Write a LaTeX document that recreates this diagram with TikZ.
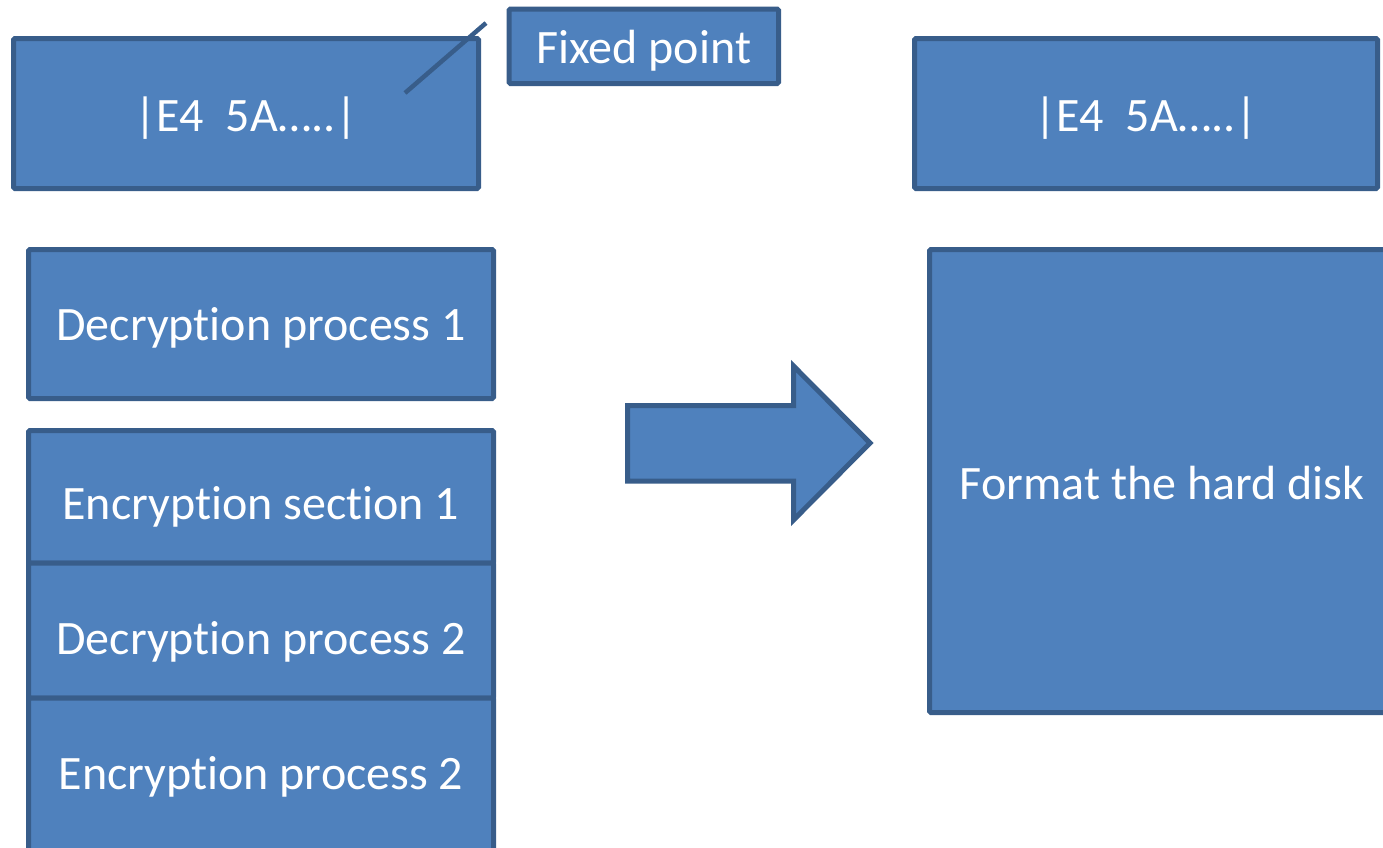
\documentclass[tikz,border=0pt]{standalone}
\usepackage{fontspec}
\setmainfont{Carlito}[Ligatures={NoCommon}]
% keep "t" and "i" as separate glyphs
\newcommand\tsep{t\kern0pt i}
\definecolor{boxfill}{HTML}{4F81BD}
\definecolor{boxline}{HTML}{385D8A}
\tikzset{
  blk/.style={draw=boxline, fill=boxfill, line width=5pt, rounded corners=1.5pt,
    inner sep=0pt, outer sep=0pt, anchor=north west},
  lbl/.style={text=white, font=\fontsize{48}{57}\selectfont, inner sep=0pt},
  pointer/.style={draw=boxline, line width=4.5pt},
}
\begin{document}
\begin{tikzpicture}[x=1pt,y=-1pt]
\useasboundingbox (0,0) rectangle (1383,847);
\clip (0,0) rectangle (1383,847);
\fill[white] (0,0) rectangle (1383,847);

% top row
\node[blk, minimum width=465pt, minimum height=150pt] (hdrL) at (13.5,38.5) {};
\node[lbl] (hdrLtxt) at (hdrL.center) [yshift=-5pt] {|E4\ \ 5A…..|};
\node[blk, minimum width=269.5pt, minimum height=74.5pt] (fixed) at (509,9) {};
\node[lbl] (fixedtxt) at (fixed.center) [yshift=-4pt] {Fixed point};
\node[blk, minimum width=463pt, minimum height=150pt] (hdrR) at (914.5,38.5) {};
\node[lbl] (hdrRtxt) at (hdrR.center) [yshift=-5pt] {|E4\ \ 5A…..|};

% pointer from the left header to the label
\coordinate (ptA) at (405,93);
\coordinate (ptB) at (486,23);
\draw[pointer] (ptA) -- (ptB);

% left stack
\node[blk, minimum width=465pt, minimum height=149pt] (dec1) at (28.5,249.5) {};
\node[lbl] at (dec1.center) [yshift=-4pt] {Decryp\tsep on process 1};
\node[blk, minimum width=465pt, minimum height=132.5pt] (enc1) at (28.5,430.5) {};
\node[lbl] at (enc1.center) [yshift=-10pt] {Encryp\tsep on sec\tsep on 1};
\node[blk, minimum width=465pt, minimum height=135pt] (dec2) at (28.5,563) {};
\node[lbl] at (dec2.center) [yshift=-11pt] {Decryp\tsep on process 2};
\node[blk, minimum width=465pt, minimum height=154pt] (enc2) at (28.5,698) {};
\node[lbl] at (enc2.center) [yshift=-2pt] {Encryp\tsep on process 2};

% block arrow
\draw[draw=boxline, fill=boxfill, line width=5pt, line join=miter]
  (627.5,405.5) -- (793.5,405.5) -- (793.5,366) -- (870,443) -- (793.5,520)
  -- (793.5,481) -- (627.5,481) -- cycle;

% right result
\node[blk, minimum width=465pt, minimum height=463pt] (fmt) at (929.5,249.5) {};
\node[lbl] at (fmt.center) [yshift=-2pt] {Format the hard disk};
\end{tikzpicture}
\end{document}
